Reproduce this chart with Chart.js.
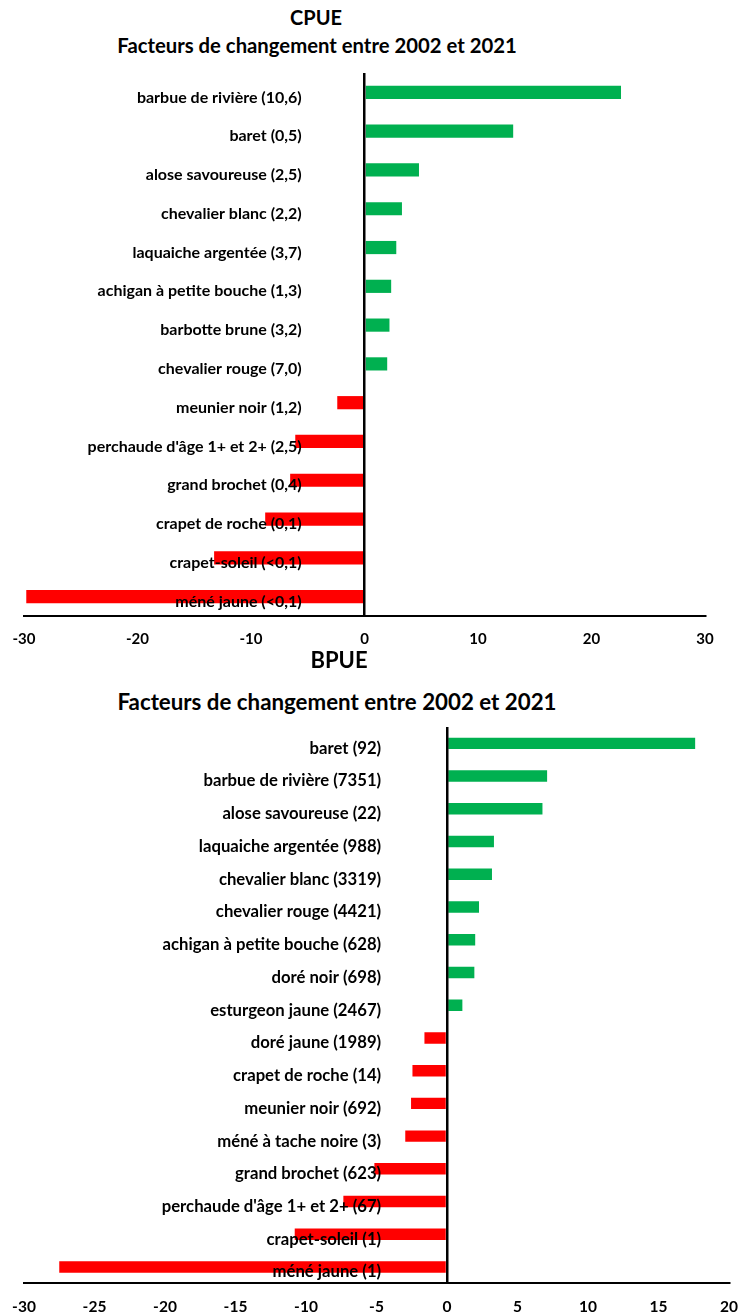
<!DOCTYPE html>
<html lang="fr">
<head>
<meta charset="utf-8">
<title>CPUE / BPUE</title>
<script src="https://cdn.jsdelivr.net/npm/chart.js@4.4.1/dist/chart.umd.min.js"></script>
<style>
    html, body { margin: 0; padding: 0; background: #ffffff; }
    body { width: 740px; height: 1314px; position: relative; overflow: hidden; font-family: Lato, 'Open Sans', sans-serif; }
    .chart-box { position: absolute; left: 0; width: 740px; }
    .chart-title { position: absolute; margin: 0; font-weight: bold; color: #000; text-align: center; white-space: nowrap; transform: translateX(-50%); }
</style>
</head>
<body>
<div class="chart-title" style="left:316px; top:5px; font-size:20px;">CPUE</div>
<div class="chart-title" style="left:317px; top:33px; font-size:20.3px;">Facteurs de changement entre 2002 et 2021</div>
<div class="chart-box" style="top:0; height:660px;"><canvas id="cpueChart"></canvas></div>

<div class="chart-title" style="left:339px; top:646px; font-size:22px;">BPUE</div>
<div class="chart-title" style="left:337px; top:688px; font-size:22.3px;">Facteurs de changement entre 2002 et 2021</div>
<div class="chart-box" style="top:650px; height:666px;"><canvas id="bpueChart"></canvas></div>

<script>
// CPUE : facteurs de changement 2002-2021 (valeur entre parenthèses dans l'étiquette)
const cpueLabels = [
    'barbue de rivière (10,6)', 'baret (0,5)', 'alose savoureuse (2,5)', 'chevalier blanc (2,2)',
    'laquaiche argentée (3,7)', 'achigan à petite bouche (1,3)', 'barbotte brune (3,2)', 'chevalier rouge (7,0)',
    'meunier noir (1,2)', "perchaude d'âge 1+ et 2+ (2,5)", 'grand brochet (0,4)', 'crapet de roche (0,1)',
    'crapet-soleil (<0,1)', 'méné jaune (<0,1)'
];
const cpueValues = [22.6, 13.1, 4.8, 3.3, 2.8, 2.35, 2.2, 2.0, -2.4, -6.1, -6.55, -8.75, -13.25, -29.8];
const cpueTicks = [-30, -20, -10, 0, 10, 20, 30];

// BPUE
const bpueLabels = [
    'baret (92)', 'barbue de rivière (7351)', 'alose savoureuse (22)', 'laquaiche argentée (988)',
    'chevalier blanc (3319)', 'chevalier rouge (4421)', 'achigan à petite bouche (628)', 'doré noir (698)',
    'esturgeon jaune (2467)', 'doré jaune (1989)', 'crapet de roche (14)', 'meunier noir (692)',
    'méné à tache noire (3)', 'grand brochet (623)', "perchaude d'âge 1+ et 2+ (67)", 'crapet-soleil (1)',
    'méné jaune (1)'
];
const bpueValues = [17.6, 7.1, 6.77, 3.33, 3.19, 2.27, 2.0, 1.94, 1.09, -1.6, -2.45, -2.55, -2.96, -5.15, -7.35, -10.8, -27.5];
const bpueTicks = [-30, -25, -20, -15, -10, -5, 0, 5, 10, 15, 20];

const GREEN = '#00b050';
const RED = '#ff0000';
const FONT = "Lato, 'Open Sans', sans-serif";

function buildChart(canvasId, labels, values, ticks, cfg) {
    const ctx = document.getElementById(canvasId).getContext('2d');
    return new Chart(ctx, {
        type: 'bar',
        data: {
            labels,
            datasets: [{
                data: values,
                backgroundColor: values.map(v => v >= 0 ? GREEN : RED),
                borderWidth: 0,
                categoryPercentage: 1,
                barPercentage: cfg.barPct
            }]
        },
        options: {
            indexAxis: 'y',
            responsive: true,
            maintainAspectRatio: false,
            animation: false,
            layout: { padding: cfg.padding },
            plugins: {
                legend: { display: false },
                tooltip: { enabled: false }
            },
            scales: {
                x: {
                    min: ticks[0],
                    max: ticks[ticks.length - 1],
                    afterBuildTicks: axis => { axis.ticks = ticks.map(v => ({ value: v })); },
                    // only the 0 gridline is visible: the black vertical axis
                    grid: {
                        z: 1,
                        lineWidth: 2.5,
                        color: c => (c.tick && c.tick.value === 0) ? '#000' : 'rgba(0,0,0,0)',
                        drawTicks: true,
                        tickLength: 14,
                        tickColor: 'rgba(0,0,0,0)'
                    },
                    border: { display: true, color: '#000', width: 2, z: 1 },
                    ticks: {
                        color: '#000',
                        padding: 0,
                        maxRotation: 0,
                        font: { family: FONT, weight: 'bold', size: cfg.tickSize }
                    }
                },
                y: {
                    // labels sit inside the plot, right-aligned a little left of 0
                    position: { x: cfg.labelAt },
                    grid: { display: false, drawTicks: false },
                    border: { display: false },
                    ticks: {
                        z: 1,
                        color: '#000',
                        padding: 0,
                        labelOffset: 5,
                        font: { family: FONT, weight: 'bold', size: cfg.labelSize }
                    }
                }
            }
        }
    });
}

document.addEventListener('DOMContentLoaded', function () {
    buildChart('cpueChart', cpueLabels, cpueValues, cpueTicks, {
        barPct: 0.34,
        padding: { top: 73, left: 24, right: 35, bottom: 12 },
        tickSize: 15,
        labelSize: 16,
        labelAt: -5.53
    });

    buildChart('bpueChart', bpueLabels, bpueValues, bpueTicks, {
        barPct: 0.35,
        padding: { top: 77, left: 24, right: 11, bottom: 0 },
        tickSize: 15.5,
        labelSize: 16.7,
        labelAt: -4.67
    });
});
</script>
</body>
</html>
